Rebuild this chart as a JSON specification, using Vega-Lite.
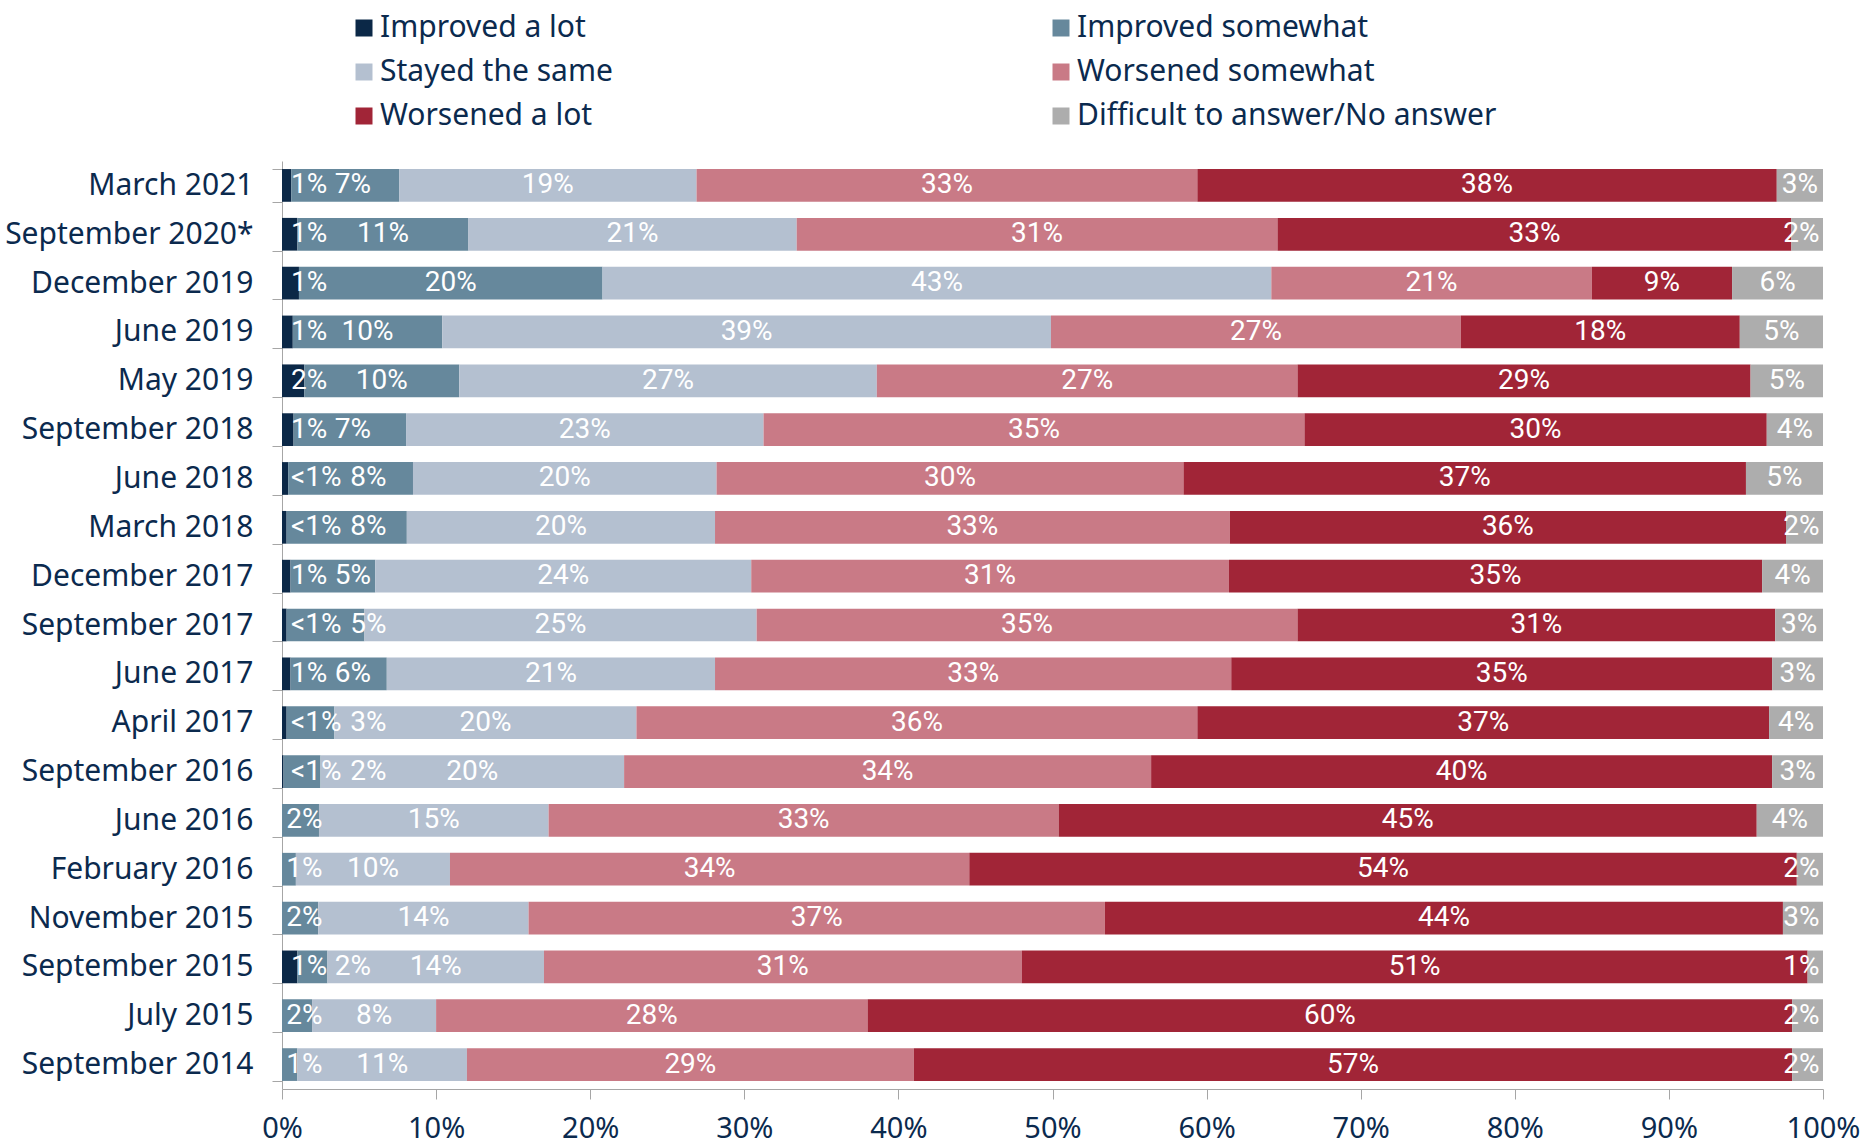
{
  "$schema": "https://vega.github.io/schema/vega-lite/v6.json",
  "width": 1541,
  "height": 928,
  "autosize": {"type": "none"},
  "padding": {"left": 282, "top": 161, "right": 39, "bottom": 55},
  "background": "white",
  "config": {
    "view": {"stroke": null},
    "axis": {"grid": false, "domainColor": "#A6A6A6", "tickColor": "#A6A6A6", "labelColor": "#0B2A4E", "labelFont": "Noto Sans", "titleFont": "Noto Sans"},
    "legend": {"labelFont": "Noto Sans", "labelColor": "#0B2A4E"}
  },
  "data": {
    "values": [
      {"period": "March 2021", "category": "Improved a lot", "value": 0.6, "label": "1%"},
      {"period": "March 2021", "category": "Improved somewhat", "value": 7.0, "label": "7%"},
      {"period": "March 2021", "category": "Stayed the same", "value": 19.3, "label": "19%"},
      {"period": "March 2021", "category": "Worsened somewhat", "value": 32.5, "label": "33%"},
      {"period": "March 2021", "category": "Worsened a lot", "value": 37.6, "label": "38%"},
      {"period": "March 2021", "category": "Difficult to answer/No answer", "value": 3.0, "label": "3%"},
      {"period": "September 2020*", "category": "Improved a lot", "value": 1.0, "label": "1%"},
      {"period": "September 2020*", "category": "Improved somewhat", "value": 11.1, "label": "11%"},
      {"period": "September 2020*", "category": "Stayed the same", "value": 21.3, "label": "21%"},
      {"period": "September 2020*", "category": "Worsened somewhat", "value": 31.2, "label": "31%"},
      {"period": "September 2020*", "category": "Worsened a lot", "value": 33.35, "label": "33%"},
      {"period": "September 2020*", "category": "Difficult to answer/No answer", "value": 2.05, "label": "2%"},
      {"period": "December 2019", "category": "Improved a lot", "value": 1.1, "label": "1%"},
      {"period": "December 2019", "category": "Improved somewhat", "value": 19.7, "label": "20%"},
      {"period": "December 2019", "category": "Stayed the same", "value": 43.4, "label": "43%"},
      {"period": "December 2019", "category": "Worsened somewhat", "value": 20.8, "label": "21%"},
      {"period": "December 2019", "category": "Worsened a lot", "value": 9.1, "label": "9%"},
      {"period": "December 2019", "category": "Difficult to answer/No answer", "value": 5.9, "label": "6%"},
      {"period": "June 2019", "category": "Improved a lot", "value": 0.7, "label": "1%"},
      {"period": "June 2019", "category": "Improved somewhat", "value": 9.7, "label": "10%"},
      {"period": "June 2019", "category": "Stayed the same", "value": 39.5, "label": "39%"},
      {"period": "June 2019", "category": "Worsened somewhat", "value": 26.6, "label": "27%"},
      {"period": "June 2019", "category": "Worsened a lot", "value": 18.1, "label": "18%"},
      {"period": "June 2019", "category": "Difficult to answer/No answer", "value": 5.4, "label": "5%"},
      {"period": "May 2019", "category": "Improved a lot", "value": 1.45, "label": "2%"},
      {"period": "May 2019", "category": "Improved somewhat", "value": 10.05, "label": "10%"},
      {"period": "May 2019", "category": "Stayed the same", "value": 27.1, "label": "27%"},
      {"period": "May 2019", "category": "Worsened somewhat", "value": 27.3, "label": "27%"},
      {"period": "May 2019", "category": "Worsened a lot", "value": 29.4, "label": "29%"},
      {"period": "May 2019", "category": "Difficult to answer/No answer", "value": 4.7, "label": "5%"},
      {"period": "September 2018", "category": "Improved a lot", "value": 0.75, "label": "1%"},
      {"period": "September 2018", "category": "Improved somewhat", "value": 7.3, "label": "7%"},
      {"period": "September 2018", "category": "Stayed the same", "value": 23.2, "label": "23%"},
      {"period": "September 2018", "category": "Worsened somewhat", "value": 35.1, "label": "35%"},
      {"period": "September 2018", "category": "Worsened a lot", "value": 30.0, "label": "30%"},
      {"period": "September 2018", "category": "Difficult to answer/No answer", "value": 3.65, "label": "4%"},
      {"period": "June 2018", "category": "Improved a lot", "value": 0.4, "label": "<1%"},
      {"period": "June 2018", "category": "Improved somewhat", "value": 8.1, "label": "8%"},
      {"period": "June 2018", "category": "Stayed the same", "value": 19.7, "label": "20%"},
      {"period": "June 2018", "category": "Worsened somewhat", "value": 30.3, "label": "30%"},
      {"period": "June 2018", "category": "Worsened a lot", "value": 36.5, "label": "37%"},
      {"period": "June 2018", "category": "Difficult to answer/No answer", "value": 5.0, "label": "5%"},
      {"period": "March 2018", "category": "Improved a lot", "value": 0.3, "label": "<1%"},
      {"period": "March 2018", "category": "Improved somewhat", "value": 7.8, "label": "8%"},
      {"period": "March 2018", "category": "Stayed the same", "value": 20.0, "label": "20%"},
      {"period": "March 2018", "category": "Worsened somewhat", "value": 33.4, "label": "33%"},
      {"period": "March 2018", "category": "Worsened a lot", "value": 36.1, "label": "36%"},
      {"period": "March 2018", "category": "Difficult to answer/No answer", "value": 2.4, "label": "2%"},
      {"period": "December 2017", "category": "Improved a lot", "value": 0.55, "label": "1%"},
      {"period": "December 2017", "category": "Improved somewhat", "value": 5.5, "label": "5%"},
      {"period": "December 2017", "category": "Stayed the same", "value": 24.4, "label": "24%"},
      {"period": "December 2017", "category": "Worsened somewhat", "value": 31.0, "label": "31%"},
      {"period": "December 2017", "category": "Worsened a lot", "value": 34.6, "label": "35%"},
      {"period": "December 2017", "category": "Difficult to answer/No answer", "value": 3.95, "label": "4%"},
      {"period": "September 2017", "category": "Improved a lot", "value": 0.3, "label": "<1%"},
      {"period": "September 2017", "category": "Improved somewhat", "value": 5.05, "label": "5%"},
      {"period": "September 2017", "category": "Stayed the same", "value": 25.45, "label": "25%"},
      {"period": "September 2017", "category": "Worsened somewhat", "value": 35.1, "label": "35%"},
      {"period": "September 2017", "category": "Worsened a lot", "value": 31.0, "label": "31%"},
      {"period": "September 2017", "category": "Difficult to answer/No answer", "value": 3.1, "label": "3%"},
      {"period": "June 2017", "category": "Improved a lot", "value": 0.55, "label": "1%"},
      {"period": "June 2017", "category": "Improved somewhat", "value": 6.25, "label": "6%"},
      {"period": "June 2017", "category": "Stayed the same", "value": 21.3, "label": "21%"},
      {"period": "June 2017", "category": "Worsened somewhat", "value": 33.5, "label": "33%"},
      {"period": "June 2017", "category": "Worsened a lot", "value": 35.1, "label": "35%"},
      {"period": "June 2017", "category": "Difficult to answer/No answer", "value": 3.3, "label": "3%"},
      {"period": "April 2017", "category": "Improved a lot", "value": 0.3, "label": "<1%"},
      {"period": "April 2017", "category": "Improved somewhat", "value": 3.1, "label": "3%"},
      {"period": "April 2017", "category": "Stayed the same", "value": 19.6, "label": "20%"},
      {"period": "April 2017", "category": "Worsened somewhat", "value": 36.4, "label": "36%"},
      {"period": "April 2017", "category": "Worsened a lot", "value": 37.1, "label": "37%"},
      {"period": "April 2017", "category": "Difficult to answer/No answer", "value": 3.5, "label": "4%"},
      {"period": "September 2016", "category": "Improved a lot", "value": 0.1, "label": "<1%"},
      {"period": "September 2016", "category": "Improved somewhat", "value": 2.4, "label": "2%"},
      {"period": "September 2016", "category": "Stayed the same", "value": 19.7, "label": "20%"},
      {"period": "September 2016", "category": "Worsened somewhat", "value": 34.2, "label": "34%"},
      {"period": "September 2016", "category": "Worsened a lot", "value": 40.3, "label": "40%"},
      {"period": "September 2016", "category": "Difficult to answer/No answer", "value": 3.3, "label": "3%"},
      {"period": "June 2016", "category": "Improved somewhat", "value": 2.4, "label": "2%"},
      {"period": "June 2016", "category": "Stayed the same", "value": 14.9, "label": "15%"},
      {"period": "June 2016", "category": "Worsened somewhat", "value": 33.1, "label": "33%"},
      {"period": "June 2016", "category": "Worsened a lot", "value": 45.3, "label": "45%"},
      {"period": "June 2016", "category": "Difficult to answer/No answer", "value": 4.3, "label": "4%"},
      {"period": "February 2016", "category": "Improved somewhat", "value": 0.9, "label": "1%"},
      {"period": "February 2016", "category": "Stayed the same", "value": 10.0, "label": "10%"},
      {"period": "February 2016", "category": "Worsened somewhat", "value": 33.7, "label": "34%"},
      {"period": "February 2016", "category": "Worsened a lot", "value": 53.7, "label": "54%"},
      {"period": "February 2016", "category": "Difficult to answer/No answer", "value": 1.7, "label": "2%"},
      {"period": "November 2015", "category": "Improved somewhat", "value": 2.35, "label": "2%"},
      {"period": "November 2015", "category": "Stayed the same", "value": 13.65, "label": "14%"},
      {"period": "November 2015", "category": "Worsened somewhat", "value": 37.4, "label": "37%"},
      {"period": "November 2015", "category": "Worsened a lot", "value": 44.0, "label": "44%"},
      {"period": "November 2015", "category": "Difficult to answer/No answer", "value": 2.6, "label": "3%"},
      {"period": "September 2015", "category": "Improved a lot", "value": 1.0, "label": "1%"},
      {"period": "September 2015", "category": "Improved somewhat", "value": 1.95, "label": "2%"},
      {"period": "September 2015", "category": "Stayed the same", "value": 14.05, "label": "14%"},
      {"period": "September 2015", "category": "Worsened somewhat", "value": 31.0, "label": "31%"},
      {"period": "September 2015", "category": "Worsened a lot", "value": 51.0, "label": "51%"},
      {"period": "September 2015", "category": "Difficult to answer/No answer", "value": 1.0, "label": "1%"},
      {"period": "July 2015", "category": "Improved somewhat", "value": 1.95, "label": "2%"},
      {"period": "July 2015", "category": "Stayed the same", "value": 8.05, "label": "8%"},
      {"period": "July 2015", "category": "Worsened somewhat", "value": 28.0, "label": "28%"},
      {"period": "July 2015", "category": "Worsened a lot", "value": 60.0, "label": "60%"},
      {"period": "July 2015", "category": "Difficult to answer/No answer", "value": 2.0, "label": "2%"},
      {"period": "September 2014", "category": "Improved somewhat", "value": 1.0, "label": "1%"},
      {"period": "September 2014", "category": "Stayed the same", "value": 11.0, "label": "11%"},
      {"period": "September 2014", "category": "Worsened somewhat", "value": 29.0, "label": "29%"},
      {"period": "September 2014", "category": "Worsened a lot", "value": 57.0, "label": "57%"},
      {"period": "September 2014", "category": "Difficult to answer/No answer", "value": 2.0, "label": "2%"}
    ]
  },
  "transform": [
    {"calculate": "indexof(['Improved a lot','Improved somewhat','Stayed the same','Worsened somewhat','Worsened a lot','Difficult to answer/No answer'], datum.category)", "as": "ord"},
    {"stack": "value", "groupby": ["period"], "sort": [{"field": "ord", "order": "ascending"}], "as": ["x0", "x1"]},
    {"calculate": "datum.ord == 0 ? length(datum.label) : 0", "as": "fl"},
    {"joinaggregate": [{"op": "max", "field": "fl", "as": "firstLen"}], "groupby": ["period"]},
    {"calculate": "(datum.x0 + datum.x1) / 2", "as": "mid"},
    {"calculate": "datum.ord == 1 ? max(datum.mid, datum.firstLen == 0 ? 1.45 : (datum.firstLen == 2 ? 4.6 : 5.6)) : (datum.ord == 5 ? min(datum.mid, 98.6) : datum.mid)", "as": "lx"}
  ],
  "encoding": {
    "y": {
      "field": "period",
      "type": "nominal",
      "sort": ["March 2021", "September 2020*", "December 2019", "June 2019", "May 2019", "September 2018", "June 2018", "March 2018", "December 2017", "September 2017", "June 2017", "April 2017", "September 2016", "June 2016", "February 2016", "November 2015", "September 2015", "July 2015", "September 2014"],
      "scale": {"paddingInner": 0.33, "paddingOuter": 0.165},
      "axis": {"title": null, "labelFontSize": 30, "labelPadding": 19, "tickSize": 10, "tickBand": "extent", "labelLimit": 400}
    }
  },
  "layer": [
    {
      "mark": {"type": "bar"},
      "encoding": {
        "x": {
          "field": "x0",
          "type": "quantitative",
          "scale": {"domain": [0, 100], "nice": false},
          "axis": {"title": null, "values": [0, 10, 20, 30, 40, 50, 60, 70, 80, 90, 100], "labelExpr": "datum.value + '%'", "labelFontSize": 29, "tickSize": 10, "labelPadding": 15, "labelFlush": false}
        },
        "x2": {"field": "x1"},
        "color": {
          "field": "category",
          "type": "nominal",
          "scale": {
            "domain": ["Improved a lot", "Improved somewhat", "Stayed the same", "Worsened somewhat", "Worsened a lot", "Difficult to answer/No answer"],
            "range": ["#0B2847", "#66889C", "#B4C0D0", "#C97A86", "#A12537", "#ADADAD"]
          },
          "legend": {
            "title": null,
            "orient": "none",
            "legendX": 67,
            "legendY": -148,
            "columns": 2,
            "direction": "horizontal",
            "gridAlign": "each",
            "columnPadding": 433,
            "rowPadding": 14,
            "symbolType": "square",
            "symbolSize": 289,
            "symbolStrokeWidth": 0,
            "symbolOffset": 0,
            "labelOffset": 1,
            "labelFontSize": 30,
            "labelLimit": 700,
            "padding": 0
          }
        }
      }
    },
    {
      "transform": [{"filter": "datum.ord == 0"}],
      "mark": {"type": "text", "align": "left", "baseline": "middle", "dx": 9, "color": "white", "font": "Roboto", "fontSize": 28},
      "encoding": {
        "x": {"field": "x0", "type": "quantitative"},
        "text": {"field": "label"}
      }
    },
    {
      "transform": [{"filter": "datum.ord > 0"}],
      "mark": {"type": "text", "align": "center", "baseline": "middle", "color": "white", "font": "Roboto", "fontSize": 28},
      "encoding": {
        "x": {"field": "lx", "type": "quantitative"},
        "text": {"field": "label"}
      }
    }
  ]
}
